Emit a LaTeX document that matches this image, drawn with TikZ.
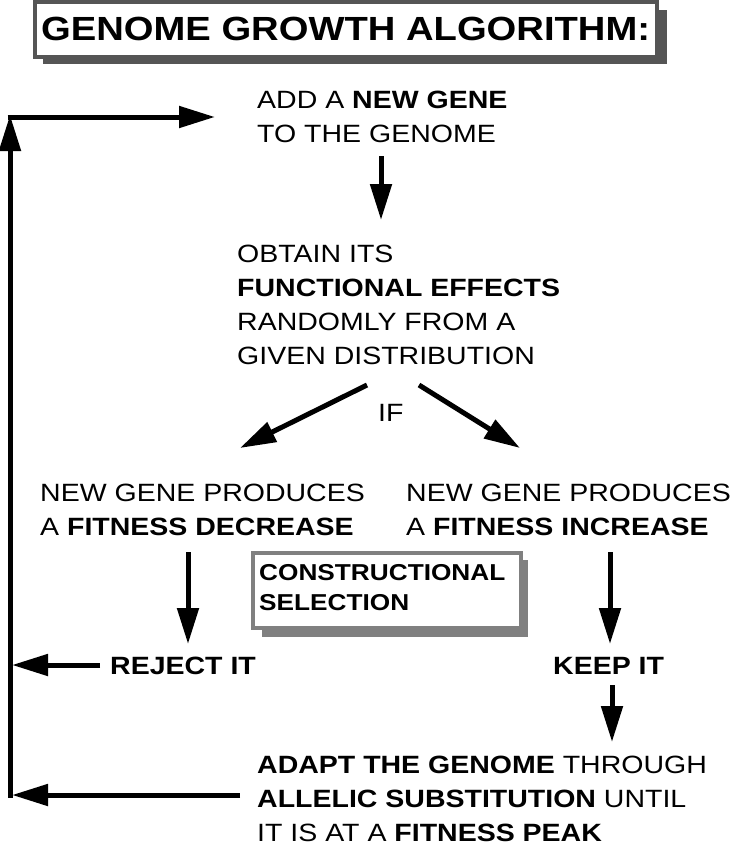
\documentclass[tikz,border=0pt]{standalone}
\usepackage{fontspec}
\setmainfont[FakeStretch=1.14]{Liberation Sans}
\usetikzlibrary{arrows.meta}
\definecolor{framedark}{HTML}{555555}
\definecolor{framelight}{HTML}{808080}
\begin{document}
\begin{tikzpicture}[x=1pt,y=-1pt,
  txt/.style={anchor=base west, align=left, inner sep=0pt, font=\fontsize{25}{34}\selectfont},
  boldtxt/.style={txt, font=\fontsize{25}{34}\selectfont\bfseries},
  arr/.style={line width=5pt, -{Triangle[length=36pt,width=21pt]}}]
\useasboundingbox[fill=white] (0,0) rectangle (731,846);
% title box
\fill[framedark] (43,10) rectangle (667,64);
\draw[line width=4pt, draw=framedark, fill=white] (35,2) rectangle (657,57);
\node[anchor=base west, inner sep=0pt, font=\fontsize{33.5}{40}\selectfont\bfseries] (title) at (41,40) {GENOME GROWTH ALGORITHM:};
% constructional selection box
\fill[framelight] (262,560) rectangle (528,637);
\draw[line width=4pt, draw=framelight, fill=white] (253,553) rectangle (521,628);
% (base anchor of a multi-line node = baseline of its last line)
\node[anchor=base west, align=left, inner sep=0pt, font=\fontsize{23}{30}\selectfont\bfseries] (cons) at (259,610) {CONSTRUCTIONAL\\SELECTION};
% text blocks
\node[txt] (add) at (257,142) {ADD A \textbf{NEW GENE}\\TO THE GENOME};
\node[txt] (obtain) at (237,364) {OBTAIN ITS\\\textbf{FUNCTIONAL EFFECTS}\\RANDOMLY FROM A\\GIVEN DISTRIBUTION};
\node[txt] (if) at (378,421) {IF};
\node[txt] (dec) at (40,535) {NEW GENE PRODUCES\\A \textbf{FITNESS DECREASE}};
\node[txt] (inc) at (406,535) {NEW GENE PRODUCES\\A \textbf{FITNESS INCREASE}};
\node[boldtxt] (reject) at (110,674) {REJECT IT};
\node[boldtxt] (keep) at (553,674) {KEEP IT};
\node[txt] (adapt) at (257,841) {\textbf{ADAPT THE GENOME} THROUGH\\\textbf{ALLELIC SUBSTITUTION} UNTIL\\IT IS AT A \textbf{FITNESS PEAK}};
% connector end points
\coordinate (a1s) at (381,156); \coordinate (a1e) at (381,220);
\coordinate (a2s) at (367,385); \coordinate (a2e) at (240,448);
\coordinate (a3s) at (419,385); \coordinate (a3e) at (520,448);
\coordinate (a4s) at (188,552); \coordinate (a4e) at (188,644);
\coordinate (a5s) at (610,552); \coordinate (a5e) at (610,644);
\coordinate (a6s) at (100,665); \coordinate (a6e) at (12,665);
\coordinate (a7s) at (612,685); \coordinate (a7e) at (612,742);
\coordinate (a8s) at (240,795); \coordinate (a8e) at (12,795);
\coordinate (lb) at (10,797.5); \coordinate (lt) at (10,115);
\coordinate (hs) at (7.5,117); \coordinate (he) at (215,117);
% connectors
\draw[arr] (a1s) -- (a1e);
\draw[arr] (a2s) -- (a2e);
\draw[arr] (a3s) -- (a3e);
\draw[arr] (a4s) -- (a4e);
\draw[arr] (a5s) -- (a5e);
\draw[arr] (a6s) -- (a6e);
\draw[arr] (a7s) -- (a7e);
\draw[arr] (a8s) -- (a8e);
\draw[arr] (lb) -- (lt);
\draw[arr] (hs) -- (he);
\end{tikzpicture}
\end{document}
